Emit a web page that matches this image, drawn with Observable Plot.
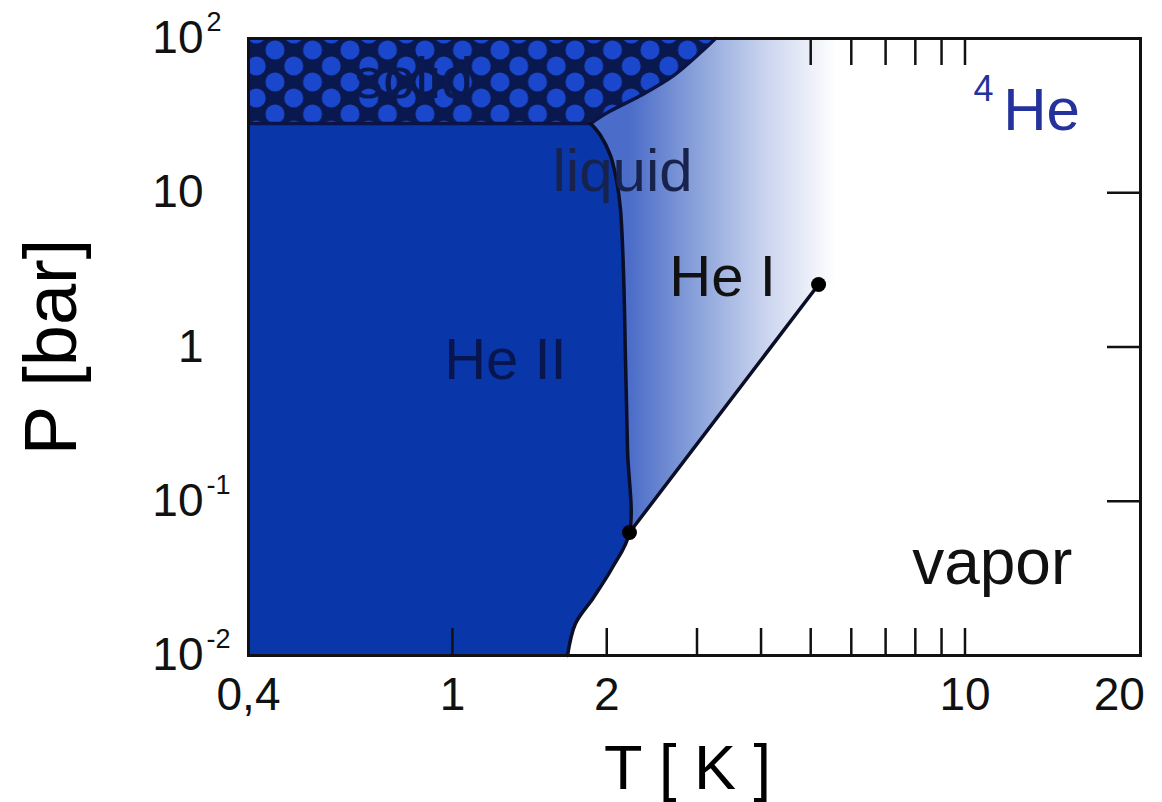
<!DOCTYPE html>
<html><head><meta charset="utf-8">
<script src="https://cdn.jsdelivr.net/npm/d3@7"></script>
<script src="https://cdn.jsdelivr.net/npm/@observablehq/plot@0.6"></script>
<style>body{margin:0;background:#fff;} svg{display:block}</style>
</head><body><div id="chart"></div>
<script>
// Saturated vapour pressure curve (T [K], P [bar]) – lower part up to lambda point, then to critical point
const vaporT = [1.677, 1.738, 1.885, 2.052, 2.215, 5.18];
const vaporP = [0.01, 0.01612, 0.0238, 0.0372, 0.0627, 2.54];
// Lambda line (from lambda point up to solid boundary)
const lambdaT = [2.215, 2.196, 2.176, 2.156, 2.128, 2.090, 2.034, 1.945, 1.860];
const lambdaP = [0.0627, 0.2133, 0.818, 3.13, 7.67, 12.0, 17.4, 23.5, 28.1];
// Melting curve (solid boundary)
const meltT = [0.4, 1.860, 2.007, 2.328, 2.700, 3.048, 3.26];
const meltP = [28.1, 28.1, 33.1, 42.7, 57.5, 81.1, 100];
// Lambda point and critical point
const pointT = [2.215, 5.18];
const pointP = [0.0627, 2.54];
// Axis ticks
const xTickValues = [0.4, 1, 2, 10, 20];
const xTickLabels = ["0,4", "1", "2", "10", "20"];
const yTickValues = [0.01, 0.1, 1, 10, 100];
const yTickBase = ["10", "10", "1", "10", "10"];
const yTickExp = ["-2", "-1", "", "", "2"];
const bottomMinor = [1, 2, 3, 4, 5, 6, 7, 8, 9, 10];
const topMinor = [5, 6, 7, 8, 9, 10];
const rightMinor = [0.1, 1, 10];
// Region labels
const labelText = ["solid", "liquid", "He I", "He II", "vapor", "He", "4"];
const labelT = [0.84, 2.147, 3.365, 1.269, 11.3, 14.1, 10.87];
const labelP = [54.2, 13.7, 2.82, 0.818, 0.0395, 34.1, 46.7];

const XMAX = 22;
const font = "Liberation Sans, Arial, Helvetica, sans-serif";
const NLOW = 5; // number of vapour points up to the lambda point

const heIIEdge = [
  ...vaporT.slice(0, NLOW).map((t, i) => ({T: t, P: vaporP[i]})),
  ...lambdaT.slice(1).map((t, i) => ({T: t, P: lambdaP[i + 1]}))
];
const vaporRows = vaporT.map((t, i) => ({T: t, P: vaporP[i]}));
const meltRows = meltT.map((t, i) => ({T: t, P: meltP[i]}));
const points = pointT.map((t, i) => ({T: t, P: pointP[i]}));
const labels = labelText.map((s, i) => ({s, T: labelT[i], P: labelP[i]}));

function lab(i, opts) {
  return Plot.text([labels[i]], {x: "T", y: "P", text: "s", fontFamily: font, lineAnchor: "middle", textAnchor: "middle", ...opts});
}

const plot = Plot.plot({
  width: 1162, height: 802,
  marginTop: 38, marginBottom: 147, marginLeft: 248, marginRight: 22,
  x: {type: "log", domain: [0.4, XMAX], axis: null},
  y: {type: "log", domain: [0.01, 100], axis: null},
  style: {fontFamily: font, background: "#fff"},
  marks: [
    Plot.frame({fill: "url(#heIgrad)"}),
    Plot.areaX(vaporRows, {y: "P", x1: "T", x2: () => XMAX, fill: "#fff"}),
    Plot.areaX(heIIEdge, {y: "P", x1: () => 0.4, x2: "T", fill: "#0936a8", curve: "catmull-rom"}),
    Plot.areaX(meltRows.slice(1), {y: "P", x1: () => 0.4, x2: "T", fill: "url(#hatch)", curve: "catmull-rom"}),
    Plot.line(meltRows.slice(1), {x: "T", y: "P", stroke: "#0a1446", strokeWidth: 3.5, curve: "catmull-rom"}),
    Plot.ruleY([meltRows[0]], {y: "P", x1: () => meltT[0], x2: () => meltT[1], stroke: "#0a1446", strokeWidth: 3.5}),
    Plot.line(heIIEdge, {x: "T", y: "P", stroke: "#0a0e26", strokeWidth: 3.5, curve: "catmull-rom"}),
    Plot.line(vaporRows.slice(NLOW - 1), {x: "T", y: "P", stroke: "#0a0e26", strokeWidth: 3.5}),
    Plot.dot(points, {x: "T", y: "P", r: 7.5, fill: "#000"}),
    Plot.tickX(bottomMinor, {x: d => d, insetTop: 590, stroke: "#111", strokeWidth: 2.5}),
    Plot.tickX(topMinor, {x: d => d, insetBottom: 590, stroke: "#111", strokeWidth: 2.5}),
    Plot.tickY(rightMinor, {y: d => d, insetLeft: 859, stroke: "#111", strokeWidth: 2.5}),
    Plot.frame({stroke: "#111", strokeWidth: 3}),
    lab(0, {fontSize: 58, fill: "#0a1a50"}),
    lab(1, {fontSize: 60, fill: "#17224d"}),
    lab(2, {fontSize: 58, fill: "#111"}),
    lab(3, {fontSize: 58, fill: "#081650"}),
    lab(4, {fontSize: 64, fill: "#111"}),
    lab(5, {fontSize: 60, fill: "#24329c"}),
    lab(6, {fontSize: 36, fill: "#24329c"}),
    Plot.text(xTickValues, {x: d => d, text: (d, i) => xTickLabels[i], frameAnchor: "bottom", dy: 40, lineAnchor: "middle", textAnchor: "middle", fontSize: 46, fill: "#111", fontFamily: font}),
    Plot.text(yTickValues, {y: d => d, text: (d, i) => yTickBase[i], frameAnchor: "left", textAnchor: "end", dx: -45, lineAnchor: "middle", fontSize: 46, fill: "#111", fontFamily: font}),
    Plot.text(yTickValues, {y: d => d, text: (d, i) => yTickExp[i], frameAnchor: "left", textAnchor: "start", dx: -42, dy: -16, lineAnchor: "middle", fontSize: 27, fill: "#111", fontFamily: font}),
    Plot.text(["P [bar]"], {frameAnchor: "left", dx: -196, rotate: -90, textAnchor: "middle", lineAnchor: "middle", fontSize: 74, fill: "#000", fontFamily: font}),
    Plot.text(["T [ K ]"], {frameAnchor: "bottom", dx: -7, dy: 113, textAnchor: "middle", lineAnchor: "middle", fontSize: 63, fill: "#000", fontFamily: font})
  ]
});

// Definitions: hatch pattern for solid, gradient for He I liquid
const sx = plot.scale("x");
const xf = sx.apply ? (v => sx.apply(v)) : d3.scaleLog(sx.domain, sx.range);
const ns = "http://www.w3.org/2000/svg";
const defs = document.createElementNS(ns, "defs");
defs.innerHTML = `
<pattern id="hatch" patternUnits="userSpaceOnUse" x="275" y="50" width="37.5" height="32">
  <rect width="37.5" height="32" fill="#0a1850"/>
  <circle cx="0" cy="0" r="9.5" fill="#1a47cc"/>
  <circle cx="37.5" cy="0" r="9.5" fill="#1a47cc"/>
  <circle cx="0" cy="32" r="9.5" fill="#1a47cc"/>
  <circle cx="37.5" cy="32" r="9.5" fill="#1a47cc"/>
  <circle cx="18.75" cy="16" r="9.5" fill="#1a47cc"/>
</pattern>
<linearGradient id="heIgrad" gradientUnits="userSpaceOnUse" x1="${xf(pointT[0])}" y1="0" x2="${xf(5.6)}" y2="0">
  <stop offset="0" stop-color="#4b6cc8"/>
  <stop offset="0.35" stop-color="#8fa6dc"/>
  <stop offset="0.65" stop-color="#c9d3ee"/>
  <stop offset="1" stop-color="#ffffff"/>
</linearGradient>`;
plot.insertBefore(defs, plot.firstChild);
document.getElementById("chart").appendChild(plot);
</script>
</body></html>
